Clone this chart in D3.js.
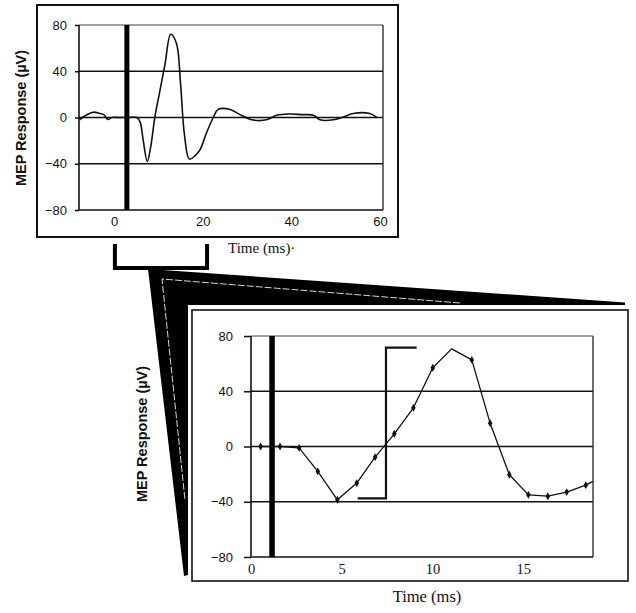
<!DOCTYPE html>
<html><head><meta charset="utf-8">
<script src="https://cdn.jsdelivr.net/npm/d3@7"></script>
<style>body{margin:0;background:#fff}svg{display:block}</style>
</head><body>
<script>
// ---- Data ----
const yTicks = [-80, -40, 0, 40, 80];
const topXTicks = [0, 20, 40, 60];
const bottomXTicks = [0, 5, 10, 15];
const yLabel = "MEP Response (\u00B5V)";
const xLabel = "Time (ms)";

// full MEP trace (top panel)
const topTime = [-7.8,-6.3,-4.7,-3.2,-2.3,-1.4,-0.5,1,3,5.2,5.9,6.6,7.5,8.3,9.2,10.3,11.5,12.8,14.1,15,15.9,17.0,18.3,19.4,20.9,22.4,23.5,26.2,28.4,31.1,34.4,36.7,39.7,42.5,45,46.5,49.5,51.4,54,57.7,59.3];
const topValue = [-2,2,4.6,3.5,2.5,-1.7,0,0,0,0,-4,-20,-38,-25,0,22,46,72,64,30,-15,-36,-33,-28,-13,0,7,7,2.5,-2,-2,2,3,2.5,2,-2,-2,0,3.5,3.5,0];
const topStimulus = [2.9];
const topWindow = [0.2, 21];

// zoomed trace (bottom panel)
const botTime = [0.53,1.6,2.65,3.68,4.76,5.83,6.84,7.9,8.95,10.02,11.06,12.17,13.18,14.24,15.29,16.36,17.4,18.45,18.85];
const botValue = [0,0,-1,-18,-38.6,-26.5,-7.7,9.2,28,57,70.7,62.7,16.9,-20.5,-35,-36,-33,-28,-25.3];
const botMarker = [1,1,1,1,1,1,1,1,1,1,0,1,1,1,1,1,1,1,0];
const botStimulus = [1.16];
const botBracket = {x: 7.44, xTop: 9.13, xBot: 5.88, top: 71.6, bottom: -37.6};

const svg = d3.select("body").append("svg").attr("width", 636).attr("height", 613);

// ---- zoom wedge decoration ----
svg.append("path")
  .attr("d", "M148,269 L625,302.5 L625,305 L188,305 L188,575 L184,576 Z")
  .attr("fill", "#000");
svg.append("path")
  .attr("d", "M460,303 L162,279 L185,500")
  .attr("fill", "none").attr("stroke", "#d8d8d8").attr("stroke-width", 1)
  .attr("stroke-dasharray", "7,2");

function panel(o) {
  const g = svg.append("g");
  g.append("rect").attr("x", o.box[0]).attr("y", o.box[1]).attr("width", o.box[2]).attr("height", o.box[3])
    .attr("fill", "#fff").attr("stroke", "#111").attr("stroke-width", o.boxW);
  const x = d3.scaleLinear().domain(o.xd).range([o.l, o.r]);
  const y = d3.scaleLinear().domain([-80, 80]).range([o.b, o.t]);
  g.selectAll(".grid").data(yTicks).join("line")
    .attr("x1", o.l).attr("x2", o.r).attr("y1", d => y(d)).attr("y2", d => y(d))
    .attr("stroke", d => d === 80 ? "#444" : "#111").attr("stroke-width", d => d === 80 ? 1.2 : 1.6);
  g.append("line").attr("x1", o.l).attr("x2", o.l).attr("y1", o.t).attr("y2", o.b).attr("stroke", "#111").attr("stroke-width", 1.6);
  g.append("line").attr("x1", o.r).attr("x2", o.r).attr("y1", o.t).attr("y2", o.b).attr("stroke", "#222").attr("stroke-width", 1.3);
  const ya = g.append("g").attr("transform", `translate(${o.l},0)`)
    .call(d3.axisLeft(y).tickValues(yTicks).tickSize(o.ytick).tickPadding(o.ypad).tickFormat(d3.format("d")));
  ya.select(".domain").remove();
  ya.selectAll("line").attr("stroke", "#111").attr("stroke-width", 1.5);
  ya.selectAll("text").attr("font-family", "Liberation Sans, Arial, sans-serif").attr("font-size", o.yfs).attr("fill", "#111");
  const xa = g.append("g").attr("transform", `translate(0,${o.b})`)
    .call(d3.axisBottom(x).tickValues(o.xticks).tickSize(0).tickPadding(o.xpad).tickFormat(d3.format("d")));
  xa.select(".domain").remove();
  xa.selectAll("text").attr("font-family", o.xfont).attr("font-size", o.xfs).attr("fill", "#111");
  g.selectAll(".stim").data(o.stim).join("rect")
    .attr("x", d => x(d) - o.stimW / 2).attr("width", o.stimW).attr("y", o.t).attr("height", o.b - o.t).attr("fill", "#000");
  g.append("text").attr("transform", `translate(${o.ylx},${o.lyc}) rotate(-90)`)
    .attr("text-anchor", "middle").attr("font-family", "Liberation Sans, Arial, sans-serif")
    .attr("font-weight", "bold").attr("font-size", 14.5).attr("fill", "#111").text(yLabel);
  return {g, x, y};
}

// ---- top panel ----
const T = panel({box: [37, 5, 361, 232], boxW: 2, l: 79, r: 383, t: 25, b: 210, xd: [-7.9, 60.7],
  ytick: 4, ypad: 8, yfs: 13, xticks: topXTicks, xpad: 7, xfont: "Liberation Sans, Arial, sans-serif", xfs: 13,
  stim: topStimulus, stimW: 5, ylx: 26, lyc: 118});
T.g.append("path").datum(topTime.map((t, i) => [t, topValue[i]]))
  .attr("d", d3.line().curve(d3.curveCatmullRom.alpha(0.5)).x(d => T.x(d[0])).y(d => T.y(d[1])))
  .attr("fill", "none").attr("stroke", "#111").attr("stroke-width", 1.6).attr("stroke-linejoin", "round");
T.g.append("text").attr("x", 228).attr("y", 253).attr("font-family", "Liberation Serif, Times New Roman, serif")
  .attr("font-size", 15).attr("fill", "#111").text(xLabel + "\u00B7");
T.g.append("path")
  .attr("d", `M${T.x(topWindow[0])},244 V268 H${T.x(topWindow[1])} V244`)
  .attr("fill", "none").attr("stroke", "#000").attr("stroke-width", 4);

// ---- bottom panel ----
const B = panel({box: [192, 310, 436, 271], boxW: 1.6, l: 251, r: 593, t: 336, b: 557, xd: [0, 18.85],
  ytick: 7, ypad: 11, yfs: 13, xticks: bottomXTicks, xpad: 7, xfont: "Liberation Serif, Times New Roman, serif", xfs: 14.5,
  stim: botStimulus, stimW: 5.5, ylx: 147, lyc: 434});
const botPts = botTime.map((t, i) => [t, botValue[i], botMarker[i]]);
B.g.append("path").datum(botPts)
  .attr("d", d3.line().x(d => B.x(d[0])).y(d => B.y(d[1])))
  .attr("fill", "none").attr("stroke", "#111").attr("stroke-width", 1.3).attr("stroke-linejoin", "round");
B.g.selectAll(".mk").data(botPts.filter(d => d[2])).join("path")
  .attr("transform", d => `translate(${B.x(d[0])},${B.y(d[1])})`)
  .attr("d", d3.symbol(d3.symbolDiamond, 18)).attr("fill", "#111");
B.g.append("path")
  .attr("d", `M${B.x(botBracket.xTop)},${B.y(botBracket.top)} H${B.x(botBracket.x)} V${B.y(botBracket.bottom)} H${B.x(botBracket.xBot)}`)
  .attr("fill", "none").attr("stroke", "#111").attr("stroke-width", 2.2);
B.g.append("text").attr("x", 427).attr("y", 602).attr("text-anchor", "middle")
  .attr("font-family", "Liberation Serif, Times New Roman, serif").attr("font-size", 16.5).attr("fill", "#111").text(xLabel);
</script>
</body></html>
